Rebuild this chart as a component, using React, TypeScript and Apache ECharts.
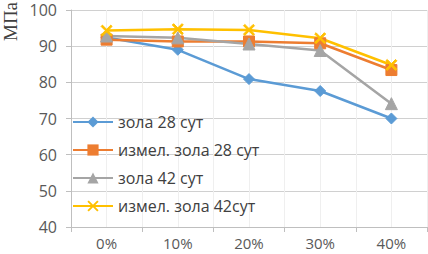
import React, { useEffect, useRef } from "react";
import * as echarts from "echarts";

const categories = ["0%", "10%", "20%", "30%", "40%"];
const ash28 = [92.4, 89, 80.9, 77.6, 70];
const groundAsh28 = [91.8, 91.3, 91.3, 90.8, 83.4];
const ash42 = [92.8, 92.3, 90.6, 88.8, 74.1];
const groundAsh42 = [94.3, 94.7, 94.5, 92.2, 84.8];
const seriesNames = ["зола 28 сут", "измел. зола 28 сут", "зола 42 сут", "измел. зола 42сут"];
const halfTicks = ["a", "b", "c", "d", "e", "f", "g", "h", "i", "j"];

const xMarker =
  "path://M0,1.2L1.2,0L5,3.8L8.8,0L10,1.2L6.2,5L10,8.8L8.8,10L5,6.2L1.2,10L0,8.8L3.8,5Z";

export default function App() {
  const ref = useRef<HTMLDivElement>(null);
  useEffect(() => {
    if (!ref.current) return;
    const chart = echarts.init(ref.current, null, { renderer: "svg" });
    const font = "'Open Sans', 'Liberation Sans', sans-serif";
    const mk = (name: string, data: number[], color: string, symbol: string, size: number) => ({
      name,
      type: "line",
      data,
      symbol,
      symbolSize: size,
      showSymbol: true,
      lineStyle: { color, width: 2.5 },
      itemStyle: { color, borderColor: color },
      xAxisIndex: 0,
    });
    chart.setOption({
      animation: false,
      grid: { left: 71, right: 1, top: 10, bottom: 27, containLabel: false },
      legend: {
        orient: "vertical",
        left: 72,
        top: 111,
        padding: 0,
        itemWidth: 40,
        itemHeight: 14,
        itemGap: 6,
        textStyle: { color: "#404040", fontSize: 16, fontFamily: font, lineHeight: 22 },
        data: seriesNames,
      },
      xAxis: [
        {
          type: "category",
          data: categories,
          boundaryGap: true,
          axisLine: { lineStyle: { color: "#bfbfbf" } },
          axisTick: { show: true, length: 5, lineStyle: { color: "#bfbfbf" } },
          axisLabel: { color: "#595959", fontSize: 15, fontFamily: font, margin: 8 },
          splitLine: { show: true, lineStyle: { color: "#e6e6e6" } },
        },
        {
          type: "category",
          data: halfTicks,
          boundaryGap: true,
          position: "bottom",
          axisLine: { show: false },
          axisTick: { show: false },
          axisLabel: { show: false },
          splitLine: { show: true, lineStyle: { color: "#efefef" } },
        },
      ],
      yAxis: {
        type: "value",
        min: 40,
        max: 100,
        interval: 10,
        axisLine: { show: true, lineStyle: { color: "#bfbfbf" } },
        axisTick: { show: true, length: 5, lineStyle: { color: "#bfbfbf" } },
        axisLabel: { color: "#595959", fontSize: 16, lineHeight: 16, fontFamily: font, margin: 14 },
        splitLine: { show: true, lineStyle: { color: "#d0d0d0" } },
      },
      graphic: [
        {
          type: "text",
          x: 1,
          y: 41,
          rotation: Math.PI / 2,
          style: {
            text: "МПа",
            fill: "#404040",
            font: "19px 'Liberation Serif', serif",
            textAlign: "left",
            textVerticalAlign: "top",
          },
        },
      ],
      series: [
        mk(seriesNames[0], ash28, "#5B9BD5", "diamond", 11),
        mk(seriesNames[1], groundAsh28, "#ED7D31", "rect", 11),
        mk(seriesNames[2], ash42, "#A5A5A5", "triangle", 12),
        mk(seriesNames[3], groundAsh42, "#FFC000", xMarker, 11),
      ],
    });
    return () => chart.dispose();
  }, []);
  return <div ref={ref} style={{ width: 428, height: 254, position: "absolute", left: 0, top: 0 }} />;
}
